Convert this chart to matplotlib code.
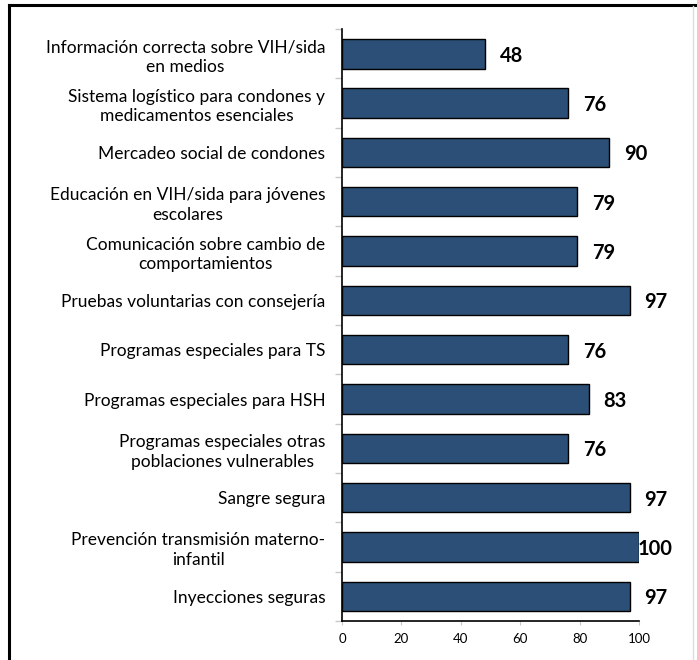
import matplotlib
matplotlib.use("Agg")
import matplotlib.pyplot as plt
from matplotlib.lines import Line2D

plt.rcParams['font.family'] = ['Lato', 'DejaVu Sans']

categorias = [
    "Información correcta sobre VIH/sida\nen medios",
    "Sistema logístico para condones y\nmedicamentos esenciales",
    "Mercadeo social de condones",
    "Educación en VIH/sida para jóvenes\nescolares",
    "Comunicación sobre cambio de\ncomportamientos",
    "Pruebas voluntarias con consejería",
    "Programas especiales para TS",
    "Programas especiales para HSH",
    "Programas especiales otras\npoblaciones vulnerables",
    "Sangre segura",
    "Prevención transmisión materno-\ninfantil",
    "Inyecciones seguras",
]
valores = [48, 76, 90, 79, 79, 97, 76, 83, 76, 97, 100, 97]
x_ticks = [0, 20, 40, 60, 80, 100]

BAR_COLOR = "#2b4f76"

fig = plt.figure(figsize=(6.97, 6.6), dpi=100)
ax = fig.add_axes([0.4907, 0.0591, 0.4261, 0.8969])

pos = list(range(len(categorias)))
ax.barh(pos, valores, height=0.6, color=BAR_COLOR, edgecolor="black", linewidth=1.0)
ax.set_ylim(len(categorias) - 0.5, -0.5)
ax.set_xlim(0, 100)

# value labels to the right of each bar
for p, v in zip(pos, valores):
    ax.text(min(v + 9, 105.5), p + 0.04, str(v), ha="center", va="center",
            fontsize=14.5, fontweight="bold", color="black", clip_on=False)

ax.set_yticks(pos)
ax.set_yticklabels(categorias, fontsize=12.5, multialignment="center", linespacing=1.3)
ax.tick_params(axis="y", length=0, pad=12)
ax.set_yticks([p + 0.5 for p in pos[:-1]] + [-0.5, len(pos) - 0.5], minor=True)
ax.tick_params(axis="y", which="minor", length=5, color="#c8c8c8", width=1)

ax.set_xticks(x_ticks)
ax.tick_params(axis="x", length=3, color="#c8c8c8", labelsize=9.5, pad=6)

for s in ("top", "right"):
    ax.spines[s].set_visible(False)
ax.spines["left"].set_linewidth(1.2)
ax.spines["bottom"].set_linewidth(1.2)

# frame around the chart
fig.add_artist(Line2D([9 / 697, 9 / 697], [0, 1 - 5 / 660], color="black", lw=2.2,
                      transform=fig.transFigure))
fig.add_artist(Line2D([9 / 697, 1], [1 - 5 / 660, 1 - 5 / 660], color="black", lw=2.2,
                      transform=fig.transFigure))
fig.add_artist(Line2D([693 / 697, 693 / 697], [0, 1 - 6 / 660], color="#dddddd", lw=1,
                      transform=fig.transFigure))

fig.savefig("out.png", dpi=100)
